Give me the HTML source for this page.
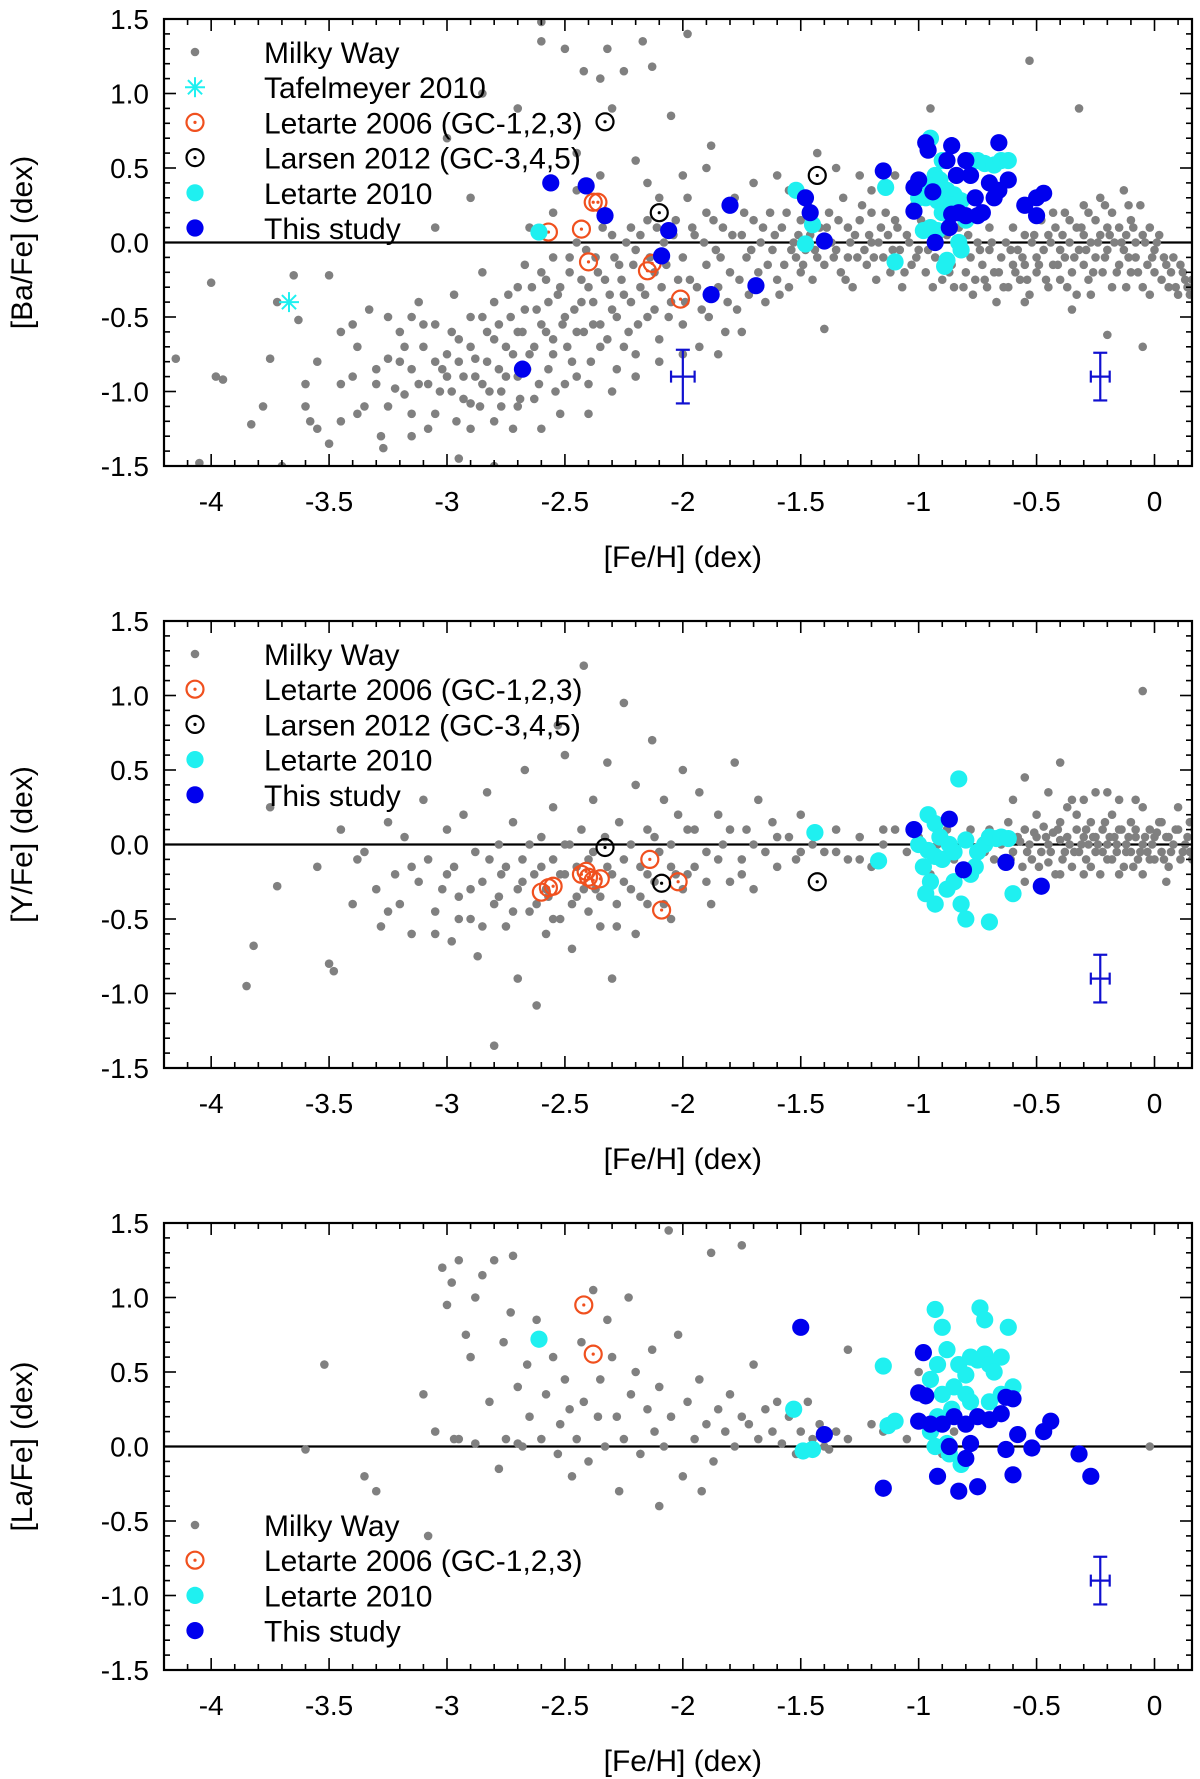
<!DOCTYPE html>
<html><head><meta charset="utf-8"><style>
html,body{margin:0;padding:0;background:#fff;}
svg{display:block;font-family:"Liberation Sans",Arial,sans-serif;}
</style></head><body>
<svg id="fig" width="1200" height="1779" viewBox="0 0 1200 1779" xmlns="http://www.w3.org/2000/svg"></svg>
<script>
// ---------- DATA ----------
const xTicks=[-4,-3.5,-3,-2.5,-2,-1.5,-1,-0.5,0];
const xTickLabels=["-4","-3.5","-3","-2.5","-2","-1.5","-1","-0.5","0"];
const yTicks=[-1.5,-1,-0.5,0,0.5,1,1.5];
const yTickLabels=["-1.5","-1.0","-0.5","0.0","0.5","1.0","1.5"];

const baMW1=[-4.15,-0.78,-4.05,-1.48,-4.0,-0.27,-3.98,-0.9,-3.95,-0.92,-3.83,-1.22,-3.78,-1.1,-3.75,-0.78,-3.72,-0.4,-3.7,-1.5,-3.65,-0.22,-3.63,-0.52,-3.6,-0.95,-3.58,-1.2,-3.55,-1.25,-3.5,-0.22,-3.5,-1.35,-3.45,-0.6,-3.45,-0.95,-3.4,-0.55,-3.38,-0.7,-3.35,-1.1,-3.33,-0.45,-3.3,-0.85,-3.28,-1.3,-3.27,-1.38,-3.25,-0.78,-3.22,-0.98,-3.2,-0.6,-3.18,-1.02,-3.15,-0.85,-3.12,-0.4,-3.1,-0.7,-3.08,-0.95,-3.05,-1.15,-3.05,-0.55,-3.02,-0.85,-3.0,-0.75,-2.98,-1.0,-2.97,-0.35,-2.95,-0.65,-2.93,-0.9,-2.9,-1.08,-2.9,-0.5,-2.88,-0.78,-2.85,-0.95,-2.85,-0.2,-2.83,-0.6,-2.8,-1.2,-2.8,-0.4,-2.78,-0.85,-2.77,-1.0,-2.75,-0.7,-2.73,-0.5,-2.72,-1.25,-2.7,-0.3,-2.7,-0.9,-2.68,-0.6,-2.67,-0.15,-2.65,-0.75,-2.63,-1.05,-2.62,-0.45,-2.6,-0.55,-2.6,1.35,-2.58,-0.25,-2.57,-0.85,-2.55,-0.1,-2.55,-0.65,-2.53,-0.35,-2.52,-1.15,-2.5,-0.5,-2.5,1.3,-2.48,-0.2,-2.47,-0.8,-2.45,0.0,-2.45,-0.6,-2.43,-0.4,-2.42,1.15,-2.4,-0.3,-2.4,-0.95,-2.38,-0.55,-2.37,-0.1,-2.35,-0.7,-2.33,-0.25,-2.32,1.3,-2.3,-0.45,-2.3,0.05,-2.28,-0.85,-2.27,-0.15,-2.25,1.15,-2.25,-0.35,-2.23,-0.6,-2.22,0.1,-2.2,-0.05,-2.2,-0.75,-2.18,-0.3,-2.17,1.35,-2.15,0.15,-2.15,-0.5,-2.13,1.18,-2.12,-0.2,-2.1,-0.65,-2.1,0.3,-2.08,0.0,-2.05,-0.4,-2.05,0.85,-2.03,0.15,-2.0,-0.1,-2.0,-0.55,-1.98,0.3,-1.97,-0.25,-1.95,0.05,-1.93,-0.7,-1.92,-0.45,-1.9,0.2,-1.9,-0.15,-1.88,0.65,-1.86,-0.05,-1.85,-0.3,-1.83,0.1,-1.82,-0.6,-1.8,-0.2,-1.78,0.3,-1.77,-0.45,-1.75,0.05,-1.73,-0.1,-1.72,-0.35,-1.7,0.15,-1.68,-0.2,-1.67,0.0,-1.65,-0.4,-1.63,0.2,-1.62,-0.05,-1.6,-0.25,-1.58,0.1,-1.57,-0.15,-1.55,0.35,-1.55,-0.3,-1.53,0.0,-1.52,-0.1,-1.5,0.15,-1.5,-0.2,-1.48,-0.05,-1.46,0.05,-1.45,-0.25,-1.43,0.6,-1.43,-0.1,-1.42,0.1,-1.4,-0.58,-1.4,-0.15,-1.38,0.2,-1.37,0.0,-1.35,-0.05,-1.33,-0.2,-1.32,0.3,-1.3,0.1,-1.3,-0.1,-1.28,-0.3,-1.27,0.05,-1.25,0.15,-1.23,-0.05,-1.22,-0.15,-1.2,0.2,-1.2,0.0,-1.18,-0.25,-1.16,0.1,-1.15,-0.1,-1.13,0.05,-1.12,-0.2,-1.1,0.15,-1.08,-0.05,-1.07,-0.3,-1.05,0.05,-1.03,-0.15,-1.02,0.25,-1.0,-0.05,-0.98,0.1,-0.97,-0.2,-0.95,0.9,-0.93,-0.1,-0.9,-0.25,-0.88,0.05,-0.86,-0.15,-0.85,-0.3,-0.83,0.1,-0.82,-0.05,-0.8,-0.2,-0.78,-0.1,-0.77,-0.35,-0.75,0.0,-0.73,-0.15,-0.72,-0.25,-0.7,-0.05,-0.7,0.1,-0.68,-0.2,-0.67,-0.4,-0.65,-0.1,-0.63,0.0,-0.62,-0.3,-0.6,-0.15,-0.6,0.1,-0.58,-0.05,-0.57,-0.25,-0.55,0.05,-0.55,-0.15,-0.53,-0.35,-0.52,0.0,-0.5,-0.1,-0.5,-0.2,-0.48,0.15,-0.47,-0.05,-0.45,-0.3,-0.45,0.05,-0.43,-0.15,-0.42,0.1,-0.4,-0.05,-0.4,-0.25,-0.38,0.2,-0.38,-0.1,-0.36,0.0,-0.35,-0.2,-0.33,0.1,-0.33,-0.35,-0.32,-0.05,-0.3,0.25,-0.3,0.05,-0.3,-0.15,-0.28,-0.25,-0.27,0.0,-0.25,0.15,-0.25,-0.1,-0.23,0.3,-0.23,0.05,-0.22,-0.2,-0.2,0.1,-0.2,-0.05,-0.18,-0.3,-0.18,0.2,-0.17,0.0,-0.15,-0.15,-0.15,0.1,-0.13,0.35,-0.13,-0.05,-0.12,0.05,-0.1,-0.2,-0.1,0.15,-0.08,0.0,-0.08,-0.1,-0.06,0.25,-0.05,-0.3,-0.05,0.05,-0.03,-0.15,-0.02,0.1,0.0,-0.05,0.0,-0.2,0.02,0.05,0.03,-0.25,0.05,-0.15,0.06,-0.3,0.08,-0.1,0.1,-0.35,0.12,-0.2,0.14,-0.3,0.16,-0.25,-0.32,0.9,-0.53,1.22,-0.2,-0.62,-0.05,-0.7,-1.98,1.4,-2.6,1.48,-2.35,1.1,-2.8,-1.5,-2.95,-1.45,-3.15,-1.3];
const baMW2=[-3.3,-0.95,-3.25,-1.1,-3.2,-0.8,-3.18,-0.7,-3.15,-1.15,-3.12,-0.95,-3.1,-0.55,-3.08,-1.25,-3.05,-0.8,-3.03,-1.0,-3.0,-0.9,-2.98,-0.6,-2.96,-1.2,-2.95,-0.8,-2.93,-1.05,-2.9,-0.7,-2.88,-0.9,-2.86,-1.1,-2.85,-0.5,-2.83,-0.8,-2.82,-1.0,-2.8,-0.65,-2.78,-0.55,-2.77,-1.1,-2.75,-0.9,-2.74,-0.35,-2.72,-0.75,-2.7,-0.6,-2.69,-1.05,-2.67,-0.45,-2.66,-0.85,-2.64,-0.3,-2.63,-0.7,-2.61,-0.95,-2.6,-0.2,-2.58,-0.6,-2.57,-0.4,-2.55,-0.75,-2.54,-1.0,-2.52,-0.3,-2.51,-0.55,-2.49,-0.7,-2.48,-0.1,-2.46,-0.45,-2.45,-0.9,-2.43,-0.25,-2.42,-0.6,-2.41,-0.05,-2.39,-0.8,-2.38,-0.4,-2.36,-0.2,-2.35,-0.55,-2.34,0.1,-2.32,-0.65,-2.31,-0.35,-2.29,-0.1,-2.28,-0.5,-2.26,-0.25,-2.25,-0.7,-2.24,0.0,-2.22,-0.4,-2.21,-0.15,-2.19,-0.55,-2.18,0.05,-2.16,-0.35,-2.14,-0.1,-2.12,-0.45,-2.11,0.1,-2.09,-0.3,-2.07,-0.15,-2.06,-0.5,-2.04,0.05,-2.02,-0.25,-1.99,-0.4,-1.96,0.1,-1.94,-0.3,-1.91,0.0,-1.89,-0.5,-1.87,0.15,-1.84,-0.1,-1.81,-0.4,-1.79,0.05,-1.76,-0.25,-1.74,0.2,-1.71,-0.05,-1.66,0.1,-1.64,-0.15,-1.61,0.05,-1.59,-0.35,-1.56,0.2,-1.54,-0.05,-1.51,0.05,-1.49,-0.15,-1.47,0.25,-1.44,-0.05,-1.41,0.0,-1.39,0.1,-1.36,-0.1,-1.34,0.15,-1.31,-0.25,-1.29,0.0,-1.26,-0.1,-1.24,0.25,-1.21,0.05,-1.19,-0.1,-1.17,0.0,-1.14,0.2,-1.11,-0.05,-1.09,0.1,-1.06,-0.2,-1.04,0.0,-1.01,-0.1,-0.99,0.15,-0.96,-0.05,-0.94,-0.3,-0.91,0.05,-0.89,-0.1,-0.87,-0.2,-0.84,0.0,-0.81,-0.3,-0.79,0.05,-0.76,-0.25,-0.74,-0.05,-0.71,-0.3,-0.69,0.0,-0.66,-0.2,-0.64,-0.3,-0.61,-0.05,-0.59,-0.2,-0.56,-0.1,-0.54,-0.25,-0.51,0.05,-0.49,-0.15,-0.46,-0.25,-0.44,0.0,-0.41,-0.15,-0.39,0.05,-0.37,-0.3,-0.34,-0.1,-0.31,0.1,-0.29,-0.05,-0.26,-0.2,-0.24,0.0,-0.21,-0.1,-0.19,0.05,-0.16,-0.2,-0.14,0.0,-0.11,-0.1,-0.09,0.1,-0.07,-0.2,-0.04,0.0,-0.01,-0.1,0.01,0.0,0.04,-0.1,0.07,-0.2,0.09,-0.3,0.11,-0.15,0.13,-0.25,0.15,-0.35,-0.43,0.2,-0.36,0.15,-0.28,0.2,-0.21,0.25,-0.11,0.25,-0.27,-0.35,-0.12,-0.3,-0.02,-0.35,-0.55,-0.4,-0.35,-0.45,-3.4,-0.9,-3.45,-1.2,-3.55,-0.8,-3.6,-1.1,-3.38,-1.15,-3.25,-0.5,-3.15,-0.5,-2.9,-1.25,-2.7,-1.1,-2.6,-1.25,-2.5,-0.95,-2.4,-1.15,-2.3,-1.0,-2.2,-0.9,-2.1,-0.8,-2.0,-0.75,-1.85,-0.75,-1.75,-0.6,-2.65,0.1,-2.55,0.2,-2.45,0.35,-2.35,0.45,-2.2,0.55,-2.15,0.4,-2.0,0.45,-1.9,0.5,-1.7,0.4,-1.6,0.45,-1.35,0.5,-1.25,0.45,-1.2,0.35,-1.1,0.45,-3.0,0.7,-2.85,1.0,-2.7,0.9,-2.45,0.6,-2.3,0.9,-2.9,0.3,-3.05,0.1];
const baMW=baMW1.concat(baMW2);
const baTaf=[-3.67,-0.40];
const baLet06=[-2.57,0.07,-2.43,0.09,-2.40,-0.13,-2.38,0.27,-2.36,0.27,-2.15,-0.19,-2.13,-0.14,-2.01,-0.38];
const baLarsen=[-2.33,0.81,-2.10,0.20,-1.43,0.45];
const baLet10=[-2.61,0.07,-1.52,0.35,-1.48,-0.01,-1.45,0.12,-1.14,0.37,-1.10,-0.13,-0.95,0.70,-0.93,0.45,-0.91,0.42,-0.95,0.38,-0.97,0.30,-0.92,0.28,-0.88,0.35,-0.90,0.20,-0.98,0.08,-0.95,0.10,-0.92,0.08,-0.88,-0.12,-0.82,-0.05,-0.78,0.55,-0.75,0.55,-0.72,0.53,-0.68,0.52,-0.65,0.55,-0.62,0.55,-0.85,0.32,-0.82,0.28,-0.80,0.15,-1.0,0.30,-0.86,0.25,-0.9,0.55,-0.83,0.0,-0.89,-0.16];
const baThis=[-2.56,0.40,-2.41,0.38,-2.33,0.18,-2.68,-0.85,-2.09,-0.09,-2.06,0.08,-1.88,-0.35,-1.80,0.25,-1.69,-0.29,-1.48,0.30,-1.46,0.20,-1.40,0.01,-1.15,0.48,-1.0,0.42,-1.02,0.37,-0.97,0.67,-0.96,0.62,-0.94,0.34,-0.88,0.55,-0.86,0.65,-0.84,0.45,-0.80,0.55,-0.78,0.45,-0.76,0.30,-0.73,0.20,-0.70,0.40,-0.66,0.67,-0.66,0.35,-0.62,0.42,-0.55,0.25,-0.50,0.30,-0.47,0.33,-0.50,0.18,-1.02,0.21,-0.93,0.0,-0.86,0.19,-0.80,0.18,-0.83,0.20,-0.87,0.10,-0.75,0.18,-0.68,0.30];
const baErr=[-2.0,-0.9,0.05,0.18,-0.23,-0.9,0.04,0.16];

const yMW1=[-3.85,-0.95,-3.82,-0.68,-3.75,0.25,-3.72,-0.28,-3.55,-0.15,-3.5,-0.8,-3.48,-0.85,-3.45,0.1,-3.4,-0.4,-3.38,-0.1,-3.35,-0.05,-3.3,-0.3,-3.28,-0.55,-3.25,0.15,-3.22,-0.2,-3.2,-0.4,-3.18,0.05,-3.15,-0.6,-3.12,-0.25,-3.1,0.3,-3.08,-0.1,-3.05,-0.45,-3.02,-0.3,-3.0,0.1,-2.98,-0.65,-2.97,-0.15,-2.95,-0.35,-2.93,0.2,-2.9,-0.5,-2.88,-0.05,-2.87,-0.75,-2.85,-0.25,-2.83,0.35,-2.8,-0.4,-2.8,-1.35,-2.78,0.0,-2.77,-0.2,-2.75,-0.55,-2.72,0.15,-2.7,-0.3,-2.7,-0.9,-2.68,-0.1,-2.67,0.5,-2.65,-0.45,-2.63,-0.2,-2.62,-1.08,-2.6,0.05,-2.58,-0.6,-2.57,-0.35,-2.55,0.25,-2.55,-0.1,-2.53,0.8,-2.52,-0.5,-2.5,-0.2,-2.5,0.6,-2.48,0.0,-2.47,-0.7,-2.45,-0.35,-2.43,0.1,-2.42,1.2,-2.4,-0.1,-2.4,-0.45,-2.38,0.3,-2.37,-0.3,-2.35,-0.55,-2.33,0.05,-2.32,0.55,-2.3,-0.2,-2.3,-0.9,-2.28,-0.4,-2.27,0.15,-2.25,-0.1,-2.25,0.95,-2.22,-0.3,-2.2,-0.6,-2.2,0.4,-2.18,-0.15,-2.15,0.1,-2.15,-0.4,-2.13,0.7,-2.12,-0.25,-2.1,-0.05,-2.08,0.3,-2.05,-0.5,-2.05,0.0,-2.03,-0.2,-2.0,0.5,-2.0,-0.3,-1.98,0.1,-1.95,-0.15,-1.93,0.35,-1.9,-0.05,-1.88,-0.4,-1.85,0.2,-1.83,0.0,-1.8,-0.25,-1.78,0.55,-1.75,-0.1,-1.73,0.1,-1.7,-0.3,-1.68,0.3,-1.65,-0.05,-1.62,0.15,-1.6,-0.15,-1.55,0.05,-1.52,-0.1,-1.5,0.2,-1.45,0.0,-1.4,-0.05,-1.35,0.1,-1.3,-0.1,-1.25,0.05,-1.2,-0.15,-1.15,0.0,-1.1,0.1,-1.05,-0.05,-1.0,0.05,-0.95,-0.2,-0.92,0.0,-0.88,0.1,-0.85,-0.1,-0.8,0.05,-0.75,-0.05,-0.7,0.1,-0.68,-0.1,-0.65,0.0,-0.62,0.15,-0.6,-0.05,-0.58,0.05,-0.56,-0.15,-0.55,0.1,-0.53,0.0,-0.52,-0.1,-0.5,0.2,-0.5,0.05,-0.48,-0.05,-0.47,0.12,-0.45,-0.12,-0.45,0.0,-0.43,0.08,-0.42,-0.2,-0.4,0.03,-0.4,0.15,-0.38,-0.05,-0.37,0.25,-0.36,0.0,-0.35,-0.15,-0.33,0.1,-0.32,-0.05,-0.3,0.05,-0.3,0.3,-0.29,-0.1,-0.28,0.0,-0.27,0.15,-0.25,-0.05,-0.25,0.05,-0.23,-0.2,-0.22,0.1,-0.2,0.0,-0.2,-0.1,-0.18,0.2,-0.17,0.05,-0.16,-0.05,-0.15,0.1,-0.13,-0.15,-0.12,0.0,-0.1,0.15,-0.1,-0.05,-0.08,0.05,-0.07,-0.1,-0.05,0.25,-0.05,0.0,-0.03,-0.05,-0.02,0.1,0.0,-0.1,0.0,0.05,0.02,0.15,0.03,-0.05,0.05,0.05,0.06,-0.15,0.08,0.0,0.1,0.1,0.12,-0.05,0.14,0.05,0.16,-0.1,0.17,0.1,-0.05,1.03,-0.55,0.45,-0.25,0.35,-0.4,0.55,-0.6,0.3];
const yMW2=[-3.25,-0.45,-3.15,-0.15,-3.05,-0.6,-3.0,-0.2,-2.95,-0.5,-2.9,-0.3,-2.85,-0.55,-2.82,-0.1,-2.78,-0.35,-2.75,-0.15,-2.72,-0.45,-2.68,-0.25,-2.65,0.0,-2.62,-0.4,-2.6,-0.15,-2.58,-0.3,-2.55,-0.5,-2.52,-0.2,-2.5,0.0,-2.47,-0.4,-2.45,-0.15,-2.42,-0.3,-2.38,-0.05,-2.35,-0.35,-2.32,-0.15,-2.28,-0.55,-2.25,-0.25,-2.22,0.0,-2.18,-0.35,-2.15,-0.2,-2.12,0.05,-2.08,-0.4,-2.05,-0.15,-2.02,0.2,-1.98,-0.2,-1.95,0.1,-1.9,-0.25,-1.85,-0.1,-1.8,0.1,-1.75,-0.2,-1.7,0.0,-1.6,0.05,-1.5,-0.05,-1.35,-0.05,-1.25,-0.1,-1.15,0.1,-0.9,0.05,-0.78,0.1,-0.72,-0.05,-0.66,0.05,-0.61,-0.1,-0.57,0.02,-0.54,-0.05,-0.51,0.08,-0.49,-0.15,-0.46,0.05,-0.44,-0.05,-0.41,0.1,-0.39,-0.1,-0.37,0.05,-0.34,-0.05,-0.33,0.2,-0.31,0.0,-0.29,0.1,-0.27,-0.15,-0.26,0.05,-0.24,0.0,-0.22,-0.05,-0.21,0.15,-0.19,0.05,-0.18,-0.1,-0.16,0.0,-0.14,0.1,-0.12,-0.05,-0.11,0.05,-0.09,-0.15,-0.08,0.1,-0.06,-0.05,-0.04,0.05,-0.02,-0.1,-0.01,0.0,0.01,0.08,0.03,0.15,0.04,-0.1,0.06,0.05,0.07,-0.05,0.09,0.1,0.11,-0.1,0.13,0.0,0.15,0.15,0.15,-0.05,-0.35,0.3,-0.45,0.35,-0.15,0.3,-0.55,-0.25,-0.4,-0.2,-0.3,-0.2,-0.15,-0.2,-0.05,-0.2,0.05,-0.25,0.1,0.25,-0.08,0.3,-0.2,0.35];
const yMW=yMW1.concat(yMW2);
const yLet06=[-2.60,-0.32,-2.57,-0.29,-2.55,-0.28,-2.43,-0.20,-2.40,-0.22,-2.38,-0.24,-2.35,-0.23,-2.41,-0.18,-2.14,-0.10,-2.02,-0.25,-2.09,-0.44];
const yLarsen=[-2.33,-0.02,-2.09,-0.26,-1.43,-0.25];
const yLet10=[-1.44,0.08,-1.17,-0.11,-0.96,0.20,-0.93,0.14,-0.91,0.05,-0.96,-0.04,-0.93,-0.08,-0.90,-0.10,-0.95,-0.25,-0.97,-0.33,-0.93,-0.40,-0.88,-0.30,-0.85,-0.25,-0.82,-0.40,-0.80,-0.50,-0.78,-0.20,-0.75,-0.05,-0.72,0.0,-0.70,0.05,-0.67,0.04,-0.65,0.05,-0.62,0.04,-0.6,-0.33,-0.7,-0.52,-0.83,0.44,-0.87,0.0,-0.85,-0.05,-0.76,-0.15,-0.8,0.03,-0.98,-0.15,-1.0,0.0];
const yThis=[-1.02,0.10,-0.87,0.17,-0.81,-0.17,-0.63,-0.12,-0.48,-0.28];
const yErr=[-0.23,-0.9,0.04,0.16];

const laMW=[-3.6,-0.02,-3.52,0.55,-3.35,-0.2,-3.3,-0.3,-3.1,0.35,-3.05,0.1,-3.02,1.2,-3.0,0.95,-2.98,1.1,-2.95,0.05,-2.95,1.25,-2.92,0.75,-2.9,0.6,-2.88,1.0,-2.85,1.15,-2.82,0.3,-2.8,1.25,-2.78,-0.15,-2.76,0.7,-2.75,0.05,-2.73,0.9,-2.72,1.28,-2.7,0.4,-2.68,0.0,-2.66,0.55,-2.65,0.2,-2.62,0.85,-2.6,0.05,-2.58,0.35,-2.55,0.6,-2.53,-0.05,-2.52,0.15,-2.5,0.45,-2.48,0.25,-2.47,-0.2,-2.45,0.05,-2.43,0.7,-2.42,0.3,-2.4,-0.1,-2.38,1.05,-2.36,0.2,-2.35,0.45,-2.33,0.0,-2.32,0.85,-2.3,0.6,-2.28,0.2,-2.27,-0.3,-2.25,0.05,-2.23,1.0,-2.22,0.35,-2.2,0.5,-2.18,-0.05,-2.15,0.25,-2.13,0.65,-2.12,0.1,-2.1,0.4,-2.08,0.0,-2.06,1.45,-2.05,0.2,-2.02,0.75,-2.0,-0.2,-1.98,0.3,-1.95,0.05,-1.93,0.45,-1.9,0.15,-1.88,1.3,-1.87,-0.1,-1.85,0.25,-1.82,0.1,-1.8,0.35,-1.78,0.0,-1.75,0.2,-1.72,0.15,-1.7,0.55,-1.68,0.05,-1.65,0.25,-1.62,0.1,-1.6,0.3,-1.58,0.02,-1.55,0.2,-1.52,-0.05,-1.5,0.1,-1.47,0.3,-1.45,0.05,-1.42,0.15,-1.4,0.0,-1.38,-0.02,-1.35,0.1,-1.3,0.05,-1.2,0.15,-1.15,0.1,-1.05,0.05,-1.0,0.5,-0.95,0.0,-0.9,-0.05,-0.85,0.1,-1.3,0.65,-0.02,0.0,-1.75,1.35,-2.1,-0.4,-1.92,-0.3,-3.08,-0.6,-2.97,0.05,-2.88,0.02,-2.7,0.02];
const laLet06=[-2.42,0.95,-2.38,0.62];
const laLet10=[-2.61,0.72,-1.53,0.25,-1.49,-0.03,-1.45,-0.02,-1.15,0.54,-1.13,0.14,-1.10,0.17,-0.93,0.92,-0.90,0.80,-0.88,0.65,-0.92,0.55,-0.95,0.45,-0.90,0.35,-0.85,0.40,-0.83,0.55,-0.80,0.48,-0.78,0.60,-0.75,0.58,-0.72,0.62,-0.70,0.55,-0.68,0.50,-0.65,0.60,-0.62,0.80,-0.74,0.93,-0.72,0.85,-0.80,0.35,-0.86,0.25,-0.92,0.2,-0.95,0.1,-0.93,0.0,-0.88,0.02,-0.87,-0.05,-0.82,-0.12,-0.78,0.3,-0.7,0.3,-0.65,0.35,-0.6,0.4];
const laThis=[-1.50,0.80,-1.40,0.08,-1.15,-0.28,-0.98,0.63,-1.0,0.36,-0.97,0.34,-1.0,0.17,-0.95,0.15,-0.90,0.15,-0.85,0.20,-0.80,0.15,-0.75,0.20,-0.70,0.18,-0.65,0.22,-0.63,0.33,-0.60,0.32,-0.58,0.08,-0.52,-0.01,-0.47,0.10,-0.44,0.17,-0.32,-0.05,-0.27,-0.20,-0.92,-0.20,-0.83,-0.30,-0.80,-0.08,-0.75,-0.27,-0.63,-0.02,-0.60,-0.19,-0.87,0.0,-0.78,0.02];
const laErr=[-0.23,-0.9,0.04,0.16];

// ---------- RENDER ----------
const NS="http://www.w3.org/2000/svg";
const svg=document.getElementById('fig');
const L=164,R=1192,H=447,XMIN=-4.2,XMAX=0.159,YMIN=-1.5,YMAX=1.5;
const GRAY="#808080",CYAN="#1ff0f0",BLUE="#0000ee",ORANGE="#f0501e";
function mk(tag,attrs,parent){const e=document.createElementNS(NS,tag);for(const k in attrs)e.setAttribute(k,attrs[k]);(parent||svg).appendChild(e);return e;}
function sx(v){return L+(v-XMIN)/(XMAX-XMIN)*(R-L);}
function sy(top){return v=>top+(YMAX-v)/(YMAX-YMIN)*H;}

function dot(g,x,y){const c=mk('circle',{cx:x,cy:y,r:4.3,fill:GRAY},g);}
function filled(g,x,y,col,name){const c=mk('circle',{cx:x,cy:y,r:8.6,fill:col},g);}
function ring(g,x,y,col,name){const gg=mk('g',{},g);mk('circle',{cx:x,cy:y,r:8.5,fill:'none',stroke:col,'stroke-width':2.2},gg);mk('circle',{cx:x,cy:y,r:1.6,fill:col},gg);}
function star(g,x,y,col,name){const gg=mk('g',{stroke:col,'stroke-width':2},g);const r=10;for(let i=0;i<4;i++){const a=i*Math.PI/4+Math.PI/2;mk('line',{x1:x-r*Math.cos(a),y1:y-r*Math.sin(a),x2:x+r*Math.cos(a),y2:y+r*Math.sin(a)},gg);}}

function panel(idx,top,ytitle,sets,err,legendItems,legTop){
  const Y=sy(top);
  const p=mk('g',{});
  const cid='clip'+idx;
  const cp=mk('clipPath',{id:cid},p);mk('rect',{x:L,y:top,width:R-L,height:H},cp);
  const zl=mk('line',{x1:L,x2:R,y1:Y(0),y2:Y(0),stroke:'#000','stroke-width':2.2},p);
  
  const pts=mk('g',{'clip-path':'url(#'+cid+')'},p);
  
  sets.forEach(s=>{for(let i=0;i<s.d.length;i+=2){const x=sx(s.d[i]),y=Y(s.d[i+1]);
    if(s.t==='mw')dot(pts,x,y);else if(s.t==='fill')filled(pts,x,y,s.c,s.n);else if(s.t==='ring')ring(pts,x,y,s.c,s.n);else star(pts,x,y,s.c,s.n);}});
  for(let i=0;i<err.length;i+=4){const x=sx(err[i]),y=Y(err[i+1]),x1=sx(err[i]-err[i+2]),x2=sx(err[i]+err[i+2]),y1=Y(err[i+1]+err[i+3]),y2=Y(err[i+1]-err[i+3]);
    const eg=mk('g',{stroke:'#1010d0','stroke-width':2.2},p);
    mk('line',{x1:x,x2:x,y1:y1,y2:y2},eg);mk('line',{x1:x-7,x2:x+7,y1:y1,y2:y1},eg);mk('line',{x1:x-7,x2:x+7,y1:y2,y2:y2},eg);
    mk('line',{x1:x1,x2:x2,y1:y,y2:y},eg);mk('line',{x1:x1,x2:x1,y1:y-6,y2:y+6},eg);mk('line',{x1:x2,x2:x2,y1:y-6,y2:y+6},eg);}
  const fr=mk('rect',{x:L,y:top,width:R-L,height:H,fill:'none',stroke:'#000','stroke-width':2.2},p);
  
  const tk=mk('g',{stroke:'#000','stroke-width':1.6},p);
  for(let k=-42;k<=1;k++){const v=k/10,x=sx(v);const major=Math.abs(Math.round(v*2)-v*2)<1e-6;const len=major?12:6;
    mk('line',{x1:x,x2:x,y1:top+H,y2:top+H-len},tk);mk('line',{x1:x,x2:x,y1:top,y2:top+len},tk);}
  for(let k=-15;k<=15;k++){const v=k/10,y=Y(v);const major=k%5===0;const len=major?12:6;
    mk('line',{x1:L,x2:L+len,y1:y,y2:y},tk);mk('line',{x1:R,x2:R-len,y1:y,y2:y},tk);}
  xTicks.forEach((v,i)=>{const t=mk('text',{x:sx(v),y:top+H+45,'font-size':28,'text-anchor':'middle'},p);t.textContent=xTickLabels[i];});
  yTicks.forEach((v,i)=>{const t=mk('text',{x:149,y:Y(v)+10,'font-size':28,'text-anchor':'end'},p);t.textContent=yTickLabels[i];});
  const xt=mk('text',{x:sx(-2),y:top+H+101,'font-size':30,'text-anchor':'middle'},p);xt.textContent='[Fe/H] (dex)';
  const cy=top+H/2;
  const yt=mk('text',{x:32,y:cy,'font-size':30,'text-anchor':'middle',transform:'rotate(-90 32 '+cy+')'},p);yt.textContent=ytitle;
  const lg=mk('g',{},p);
  legendItems.forEach((it,i)=>{const y=legTop+i*35.2;const le=mk('g',{},lg);
    const x=195;
    if(it.t==='mw'){mk('circle',{cx:x,cy:y,r:4.3,fill:GRAY},le);}
    else if(it.t==='fill'){mk('circle',{cx:x,cy:y,r:8.6,fill:it.c},le);}
    else if(it.t==='ring'){mk('circle',{cx:x,cy:y,r:8.5,fill:'none',stroke:it.c,'stroke-width':2.2},le);mk('circle',{cx:x,cy:y,r:1.6,fill:it.c},le);}
    else {const gg=mk('g',{stroke:it.c,'stroke-width':2},le);for(let j=0;j<4;j++){const a=j*Math.PI/4+Math.PI/2;mk('line',{x1:x-10*Math.cos(a),y1:y-10*Math.sin(a),x2:x+10*Math.cos(a),y2:y+10*Math.sin(a)},gg);}}
    const t=mk('text',{x:264,y:y+11,'font-size':30},le);t.textContent=it.l;});
}

const T1=19,T2=621,T3=1223;
panel(1,T1,'[Ba/Fe] (dex)',[
 {t:'mw',d:baMW},{t:'star',d:baTaf,c:CYAN,n:'tafelmeyer-point'},{t:'ring',d:baLet06,c:ORANGE,n:'letarte2006-point'},
 {t:'ring',d:baLarsen,c:'#000',n:'larsen2012-point'},{t:'fill',d:baLet10,c:CYAN,n:'letarte2010-point'},{t:'fill',d:baThis,c:BLUE,n:'this-study-point'}],
 baErr,[{t:'mw',l:'Milky Way'},{t:'star',c:CYAN,l:'Tafelmeyer 2010'},{t:'ring',c:ORANGE,l:'Letarte 2006 (GC-1,2,3)'},{t:'ring',c:'#000',l:'Larsen 2012 (GC-3,4,5)'},{t:'fill',c:CYAN,l:'Letarte 2010'},{t:'fill',c:BLUE,l:'This study'}],T1+33);
panel(2,T2,'[Y/Fe] (dex)',[
 {t:'mw',d:yMW},{t:'ring',d:yLet06,c:ORANGE,n:'letarte2006-point'},{t:'ring',d:yLarsen,c:'#000',n:'larsen2012-point'},
 {t:'fill',d:yLet10,c:CYAN,n:'letarte2010-point'},{t:'fill',d:yThis,c:BLUE,n:'this-study-point'}],
 yErr,[{t:'mw',l:'Milky Way'},{t:'ring',c:ORANGE,l:'Letarte 2006 (GC-1,2,3)'},{t:'ring',c:'#000',l:'Larsen 2012 (GC-3,4,5)'},{t:'fill',c:CYAN,l:'Letarte 2010'},{t:'fill',c:BLUE,l:'This study'}],T2+33);
panel(3,T3,'[La/Fe] (dex)',[
 {t:'mw',d:laMW},{t:'ring',d:laLet06,c:ORANGE,n:'letarte2006-point'},
 {t:'fill',d:laLet10,c:CYAN,n:'letarte2010-point'},{t:'fill',d:laThis,c:BLUE,n:'this-study-point'}],
 laErr,[{t:'mw',l:'Milky Way'},{t:'ring',c:ORANGE,l:'Letarte 2006 (GC-1,2,3)'},{t:'fill',c:CYAN,l:'Letarte 2010'},{t:'fill',c:BLUE,l:'This study'}],T3+302);
</script>
</body></html>
